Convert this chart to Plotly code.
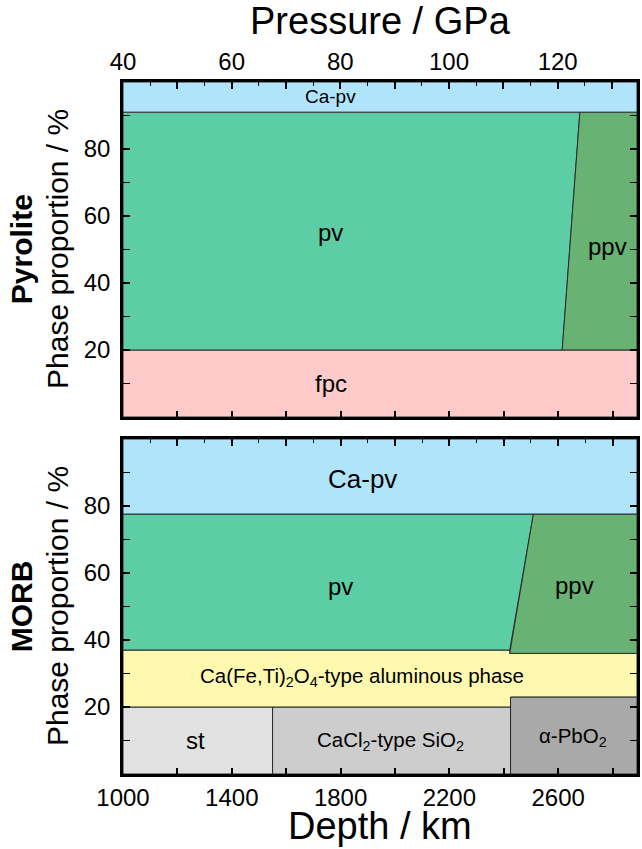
import plotly.graph_objects as go

# ── data ─────────────────────────────────────────────────────────────────────
DEPTH_RANGE = [1000, 2890]          # km
PRESSURE_RANGE = [40, 134.6]        # GPa, same span as depth axis

# Pyrolite: phase proportion boundaries (%)
pyr_fpc_top = 20
pyr_pv_top = 91
pyr_ppv_depth = [2615, 2680]        # pv -> ppv at bottom / top of the pv field

# MORB
morb_silica_top = 20
morb_pbo2_top = 23
morb_cf_top = [37, 36]              # before / after ppv transition
morb_pv_top = 77.6
morb_st_cacl2_depth = 1550
morb_cacl2_pbo2_depth = 2425
morb_ppv_depth = [2422, 2509]

depth_ticks = list(range(1000, 2801, 200))
pressure_ticks = list(range(40, 131, 10))
percent_ticks = [20, 40, 60, 80]

colors = {
    "Ca-pv": "#b0e4fb",
    "pv": "#5ccda4",
    "ppv": "#68b274",
    "fpc": "#fecaca",
    "cf": "#fef9ae",
    "st": "#e1e1e1",
    "cacl2": "#cdcdcd",
    "pbo2": "#a9a9a9",
}

FONT = "Liberation Sans, Arial, sans-serif"
EDGE = "#2a2a2a"

fig = go.Figure()


def poly(xs, ys, color, xa, ya):
    fig.add_trace(go.Scatter(
        x=xs + [xs[0]], y=ys + [ys[0]], mode="lines", fill="toself",
        fillcolor=color, line=dict(color=EDGE, width=1),
        xaxis=xa, yaxis=ya, hoverinfo="skip", showlegend=False,
    ))


d0, d1 = DEPTH_RANGE

# ── Pyrolite (top panel: x2 / y2) ────────────────────────────────────────────
poly([d0, d1, d1, d0], [0, 0, pyr_fpc_top, pyr_fpc_top], colors["fpc"], "x2", "y2")
poly([d0, pyr_ppv_depth[0], pyr_ppv_depth[1], d0],
     [pyr_fpc_top, pyr_fpc_top, pyr_pv_top, pyr_pv_top], colors["pv"], "x2", "y2")
poly([pyr_ppv_depth[0], d1, d1, pyr_ppv_depth[1]],
     [pyr_fpc_top, pyr_fpc_top, pyr_pv_top, pyr_pv_top], colors["ppv"], "x2", "y2")
poly([d0, d1, d1, d0], [pyr_pv_top, pyr_pv_top, 100, 100], colors["Ca-pv"], "x2", "y2")

# ── MORB (bottom panel: x / y) ───────────────────────────────────────────────
poly([d0, morb_st_cacl2_depth, morb_st_cacl2_depth, d0],
     [0, 0, morb_silica_top, morb_silica_top], colors["st"], "x", "y")
poly([morb_st_cacl2_depth, morb_cacl2_pbo2_depth, morb_cacl2_pbo2_depth, morb_st_cacl2_depth],
     [0, 0, morb_silica_top, morb_silica_top], colors["cacl2"], "x", "y")
poly([morb_cacl2_pbo2_depth, d1, d1, morb_cacl2_pbo2_depth],
     [0, 0, morb_pbo2_top, morb_pbo2_top], colors["pbo2"], "x", "y")
poly([d0, morb_cacl2_pbo2_depth, morb_cacl2_pbo2_depth, d1, d1, morb_ppv_depth[0], morb_ppv_depth[0], d0],
     [morb_silica_top, morb_silica_top, morb_pbo2_top, morb_pbo2_top,
      morb_cf_top[1], morb_cf_top[1], morb_cf_top[0], morb_cf_top[0]], colors["cf"], "x", "y")
poly([d0, morb_ppv_depth[0], morb_ppv_depth[1], d0],
     [morb_cf_top[0], morb_cf_top[0], morb_pv_top, morb_pv_top], colors["pv"], "x", "y")
poly([morb_ppv_depth[0], d1, d1, morb_ppv_depth[1]],
     [morb_cf_top[1], morb_cf_top[1], morb_pv_top, morb_pv_top], colors["ppv"], "x", "y")
poly([d0, d1, d1, d0], [morb_pv_top, morb_pv_top, 100, 100], colors["Ca-pv"], "x", "y")

# invisible traces so the overlay axes (pressure on top, depth ticks on MORB top) get drawn
fig.add_trace(go.Scatter(x=PRESSURE_RANGE, y=[50, 50], xaxis="x3", yaxis="y2", mode="markers",
                         marker=dict(opacity=0), hoverinfo="skip", showlegend=False))
fig.add_trace(go.Scatter(x=DEPTH_RANGE, y=[50, 50], xaxis="x4", yaxis="y", mode="markers",
                         marker=dict(opacity=0), hoverinfo="skip", showlegend=False))

# ── phase labels ─────────────────────────────────────────────────────────────
labels = [
    ("x2", "y2", 1764, 95.8, "Ca-pv", 19),
    ("x2", "y2", 1764, 55, "pv", 24),
    ("x2", "y2", 2782, 51, "ppv", 24),
    ("x2", "y2", 1764, 10, "fpc", 24),
    ("x", "y", 1880, 88, "Ca-pv", 26),
    ("x", "y", 1800, 56, "pv", 24),
    ("x", "y", 2662, 56.4, "ppv", 24),
    ("x", "y", 1880, 29, "Ca(Fe,Ti)<sub>2</sub>O<sub>4</sub>-type aluminous phase", 20.5),
    ("x", "y", 1265, 10, "st", 24),
    ("x", "y", 1982, 10, "CaCl<sub>2</sub>-type SiO<sub>2</sub>", 20.5),
    ("x", "y", 2655, 11, "α-PbO<sub>2</sub>", 20.5),
]
for xa, ya, x, y, txt, size in labels:
    fig.add_annotation(x=x, y=y, xref=xa, yref=ya, text=txt, showarrow=False,
                       xanchor="center", yanchor="middle",
                       font=dict(family=FONT, size=size, color="black"))

# ── axes ─────────────────────────────────────────────────────────────────────
tick_font = dict(family=FONT, size=24, color="black")
frame = dict(showline=True, linecolor="black", linewidth=2.5, mirror=True,
             showgrid=False, zeroline=False)
plain = dict(showgrid=False, zeroline=False, showline=False)

depth_text = [str(v) if (v - 1000) % 400 == 0 else "" for v in depth_ticks]
pressure_text = [str(v) if v % 20 == 0 else "" for v in pressure_ticks]

y_common = dict(range=[0, 100], tickvals=percent_ticks, ticks="inside", ticklen=7,
                tickcolor="black", tickwidth=1.5, tickfont=tick_font,
                ticklabelstandoff=5,
                minor=dict(dtick=10, ticks="inside", ticklen=5, tickcolor="black", tickwidth=1.2),
                **frame)
y_common["mirror"] = "allticks"

fig.update_layout(
    width=642, height=849,
    margin=dict(l=123, r=2, t=82, b=75),
    paper_bgcolor="white", plot_bgcolor="white",
    font=dict(family=FONT, color="black"),
    xaxis=dict(domain=[0, 1], range=DEPTH_RANGE, anchor="y",
               tickvals=depth_ticks, ticktext=depth_text, ticks="inside",
               ticklen=6, tickcolor="black", tickwidth=1.5, tickfont=tick_font,
               ticklabelstandoff=0, **frame),
    xaxis4=dict(range=DEPTH_RANGE, overlaying="x", side="top", anchor="y",
                tickvals=depth_ticks, ticks="inside", ticklen=7, tickcolor="black",
                tickwidth=1.5, showticklabels=False,
                minor=dict(dtick=100, ticks="inside", ticklen=4, tickcolor="black", tickwidth=1.2),
                **plain),
    yaxis=dict(domain=[0, 0.4841], anchor="x", **y_common),
    xaxis2=dict(domain=[0, 1], range=DEPTH_RANGE, anchor="y2",
                tickvals=depth_ticks, ticks="inside", ticklen=6, tickcolor="black",
                tickwidth=1.5, showticklabels=False, **frame),
    xaxis3=dict(range=PRESSURE_RANGE, overlaying="x2", side="top", anchor="y2",
                tickvals=pressure_ticks, ticktext=pressure_text,
                ticks="inside", ticklen=7, tickcolor="black", tickwidth=1.5,
                tickfont=tick_font, ticklabelstandoff=6,
                minor=dict(dtick=5, ticks="inside", ticklen=4, tickcolor="black", tickwidth=1.2),
                **plain),
    yaxis2=dict(domain=[0.5159, 1], anchor="x2", **y_common),
)

# ── axis titles ──────────────────────────────────────────────────────────────
fig.add_annotation(x=0.5, y=1.088, xref="paper", yref="paper", text="Pressure / GPa",
                   xanchor="center", yanchor="middle", showarrow=False,
                   font=dict(family=FONT, size=38, color="black"))
fig.add_annotation(x=0.5, y=-0.0751, xref="paper", yref="paper", text="Depth / km",
                   xanchor="center", yanchor="middle", showarrow=False,
                   font=dict(family=FONT, size=38, color="black"))
for yc, name in [(0.758, "Pyrolite"), (0.242, "MORB")]:
    fig.add_annotation(x=-0.1274, y=yc, xref="paper", yref="paper", text="Phase proportion / %",
                       textangle=-90, xanchor="center", yanchor="middle", showarrow=False,
                       font=dict(family=FONT, size=30, color="black"))
    fig.add_annotation(x=-0.197, y=yc, xref="paper", yref="paper", text=f"<b>{name}</b>",
                       textangle=-90, xanchor="center", yanchor="middle", showarrow=False,
                       font=dict(family=FONT, size=30, color="black"))

# drop the browser's default 8px body margin so the figure fills the window
fig.write_html("out.html", config={"displayModeBar": False},
               post_script="document.body.style.margin = '0';")
